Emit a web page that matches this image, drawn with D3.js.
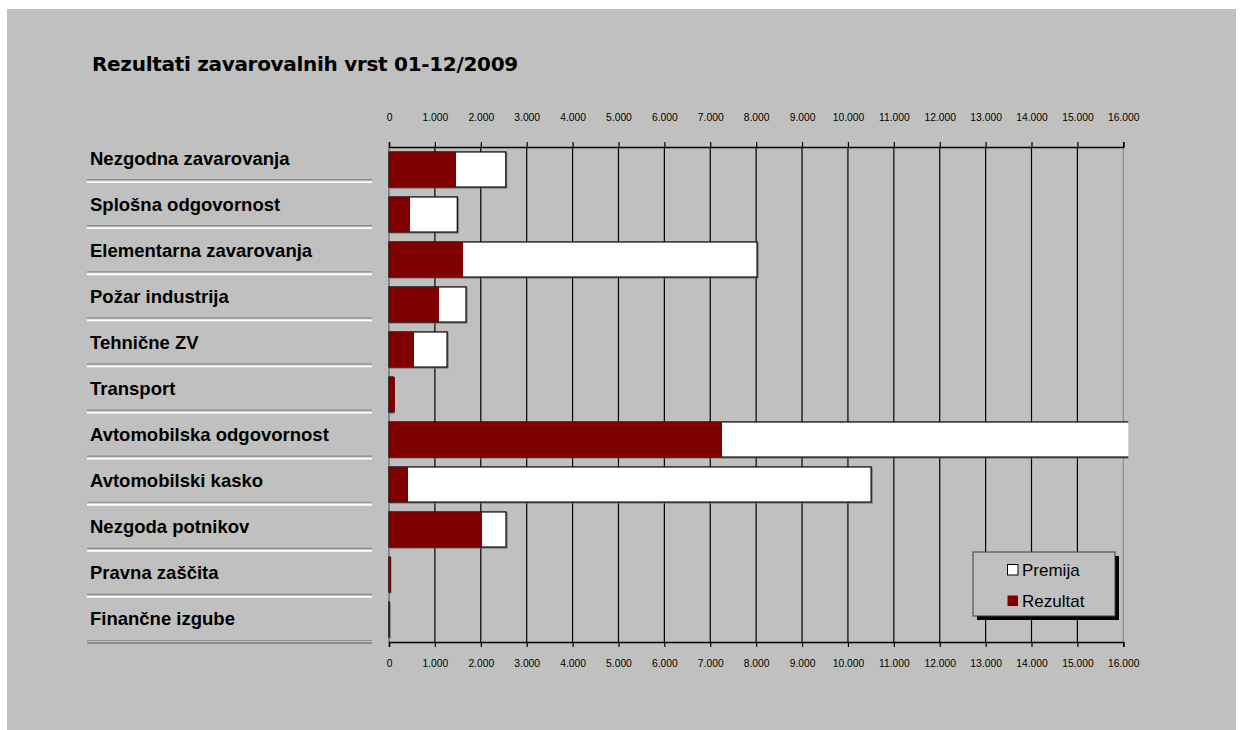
<!DOCTYPE html>
<html>
<head>
<meta charset="utf-8">
<script src="https://cdn.jsdelivr.net/npm/d3@7"></script>
<style>
  body { margin: 0; background: #ffffff; }
  svg { display: block; }
  .rowLabel { font-family: "Liberation Sans", Arial, sans-serif; font-weight: bold; font-size: 18.5px; fill: #000; }
  .tickText { font-family: "Liberation Sans", Arial, sans-serif; font-size: 10.3px; fill: #000; }
  .legendText { font-family: "Liberation Sans", Arial, sans-serif; font-size: 17px; fill: #000; }
</style>
</head>
<body>
<div id="chart"></div>
<script>
/* data (thousand EUR) */
var categories = [
  "Nezgodna zavarovanja",
  "Splošna odgovornost",
  "Elementarna zavarovanja",
  "Požar industrija",
  "Tehnične ZV",
  "Transport",
  "Avtomobilska odgovornost",
  "Avtomobilski kasko",
  "Nezgoda potnikov",
  "Pravna zaščita",
  "Finančne izgube"
]
var premija = [2545, 1488, 8020, 1678, 1265, 90, 16400, 10505, 2550, 20, 3]
var rezultat = [1460, 458, 1613, 1090, 545, 130, 7256, 414, 2027, 40, 0]
var seriesNames = ["Premija", "Rezultat"]
var seriesColors = ["#ffffff", "#800000"]
var tickValues = [0, 1000, 2000, 3000, 4000, 5000, 6000, 7000, 8000, 9000, 10000, 11000, 12000, 13000, 14000, 15000, 16000]
var titleText = "Rezultati zavarovalnih vrst 01-12/2009"

var width = 1243
var height = 730

var layout = {
  plotLeft: 389,
  plotRight: 1123.3,
  plotTop: 147,
  plotBottom: 642,
  labelTop: 135,
  labelX: 90,
  sepLeft: 87,
  sepRight: 372,
  tickSize: 5
}

var svg = d3.select("#chart")
  .append("svg")
  .attr("width", width)
  .attr("height", height)

/* gray panel */
svg.append("rect")
  .attr("x", 7)
  .attr("y", 9)
  .attr("width", 1229)
  .attr("height", 721)
  .attr("fill", "#c0c0c0")

/* title */
svg.append("text")
  .attr("x", 92)
  .attr("y", 71)
  .style("font-family", "'DejaVu Sans', Verdana, sans-serif")
  .style("font-weight", "bold")
  .style("font-size", "20px")
  .style("letter-spacing", "-0.3px")
  .style("fill", "#000")
  .text(titleText)

/* scales */
var xScale = d3.scaleLinear()
  .domain([0, 16000])
  .range([layout.plotLeft, layout.plotRight])

var yScale = d3.scaleBand()
  .domain(categories)
  .range([layout.plotTop, layout.plotBottom])
  .paddingInner(0.22)
  .paddingOuter(0.11)

var labelScale = d3.scaleBand()
  .domain(categories)
  .range([layout.labelTop, layout.plotBottom])

var slLocale = d3.formatLocale({ decimal: ",", thousands: ".", grouping: [3], currency: ["", " €"] })
var tickFormat = slLocale.format(",.0f")

/* row labels with separators */
categories.forEach(rowLabel)

function rowLabel(item, i) {
  var y0 = labelScale(item)
  var y1 = y0 + labelScale.bandwidth()
  svg.append("text")
    .attr("class", "rowLabel")
    .attr("x", layout.labelX)
    .attr("y", y0 + labelScale.bandwidth() / 2)
    .attr("dy", "0.35em")
    .text(item)
  svg.append("line")
    .attr("x1", layout.sepLeft)
    .attr("x2", layout.sepRight)
    .attr("y1", y1 - 1.5)
    .attr("y2", y1 - 1.5)
    .style("stroke", "#8c8c8c")
    .style("stroke-width", 1.2)
  svg.append("line")
    .attr("x1", layout.sepLeft)
    .attr("x2", layout.sepRight)
    .attr("y1", y1 + 1)
    .attr("y2", y1 + 1)
    .style("stroke", i == categories.length - 1 ? "#8c8c8c" : "#ffffff")
    .style("stroke-width", 1.8)
}

/* vertical grid */
tickValues.forEach(gridVert)

function gridVert(item) {
  var col = "#000"
  if (item == 0) col = "#606060"
  if (item == 16000) col = "#8c8c8c"
  svg.append("line")
    .attr("x1", xScale(item))
    .attr("x2", xScale(item))
    .attr("y1", layout.plotTop)
    .attr("y2", layout.plotBottom)
    .style("stroke", col)
    .style("stroke-width", 1.2)
}

/* bars */
svg.append("clipPath")
  .attr("id", "plotClip")
  .append("rect")
  .attr("x", 0)
  .attr("y", 0)
  .attr("width", xScale(16000) + 5)
  .attr("height", height)

var barG = svg.append("g").attr("clip-path", "url(#plotClip)")

categories.forEach(drawBars)

function drawBars(item, i) {
  var y = yScale(item)
  var h = yScale.bandwidth()
  var pw = xScale(premija[i]) - xScale(0)
  var rw = xScale(rezultat[i]) - xScale(0)
  /* shadow */
  barG.append("rect")
    .attr("x", xScale(0) + 1)
    .attr("y", y + 1)
    .attr("width", pw)
    .attr("height", h)
    .attr("fill", "none")
    .attr("stroke", "#707070")
    .attr("stroke-width", 1)
  barG.append("rect")
    .attr("x", xScale(0))
    .attr("y", y)
    .attr("width", pw)
    .attr("height", h)
    .attr("fill", seriesColors[0])
    .attr("stroke", "#000")
    .attr("stroke-width", 1.2)
  barG.append("rect")
    .attr("x", xScale(0))
    .attr("y", y)
    .attr("width", rw)
    .attr("height", h)
    .attr("fill", seriesColors[1])
}

/* axes */
var topAxis = d3.axisTop(xScale)
  .tickValues(tickValues)
  .tickSize(layout.tickSize)
  .tickPadding(21)
  .tickFormat(tickFormat)

var bottomAxis = d3.axisBottom(xScale)
  .tickValues(tickValues)
  .tickSize(layout.tickSize)
  .tickPadding(12.5)
  .tickFormat(tickFormat)

var topG = svg.append("g")
  .attr("transform", "translate(0," + layout.plotTop + ")")
  .call(topAxis)
var bottomG = svg.append("g")
  .attr("transform", "translate(0," + layout.plotBottom + ")")
  .call(bottomAxis)

function styleAxis(g) {
  g.select(".domain").attr("stroke", "#000").attr("stroke-width", 1.5)
  g.selectAll(".tick line").attr("stroke", "#000").attr("stroke-width", 1.2)
  g.selectAll(".tick text")
    .attr("class", "tickText")
    .attr("font-family", null)
    .attr("font-size", null)
    .attr("fill", null)
}
styleAxis(topG)
styleAxis(bottomG)

/* legend */
var legend = svg.append("g").attr("transform", "translate(973,552)")
legend.append("rect")
  .attr("x", 4)
  .attr("y", 4)
  .attr("width", 142)
  .attr("height", 64)
  .attr("fill", "#000")
legend.append("rect")
  .attr("x", 0)
  .attr("y", 0)
  .attr("width", 142)
  .attr("height", 64)
  .attr("fill", "#c0c0c0")
  .attr("stroke", "#404040")
  .attr("stroke-width", 1)

seriesNames.forEach(legendItem)

function legendItem(item, i) {
  var cy = 18 + i * 31
  legend.append("rect")
    .attr("x", 34.5)
    .attr("y", cy - 5.5)
    .attr("width", 10.5)
    .attr("height", 10.5)
    .attr("fill", seriesColors[i])
    .attr("stroke", i == 0 ? "#000" : "none")
    .attr("stroke-width", 1)
  legend.append("text")
    .attr("class", "legendText")
    .attr("x", 49)
    .attr("y", cy)
    .attr("dy", "0.36em")
    .text(item)
}
</script>
</body>
</html>
